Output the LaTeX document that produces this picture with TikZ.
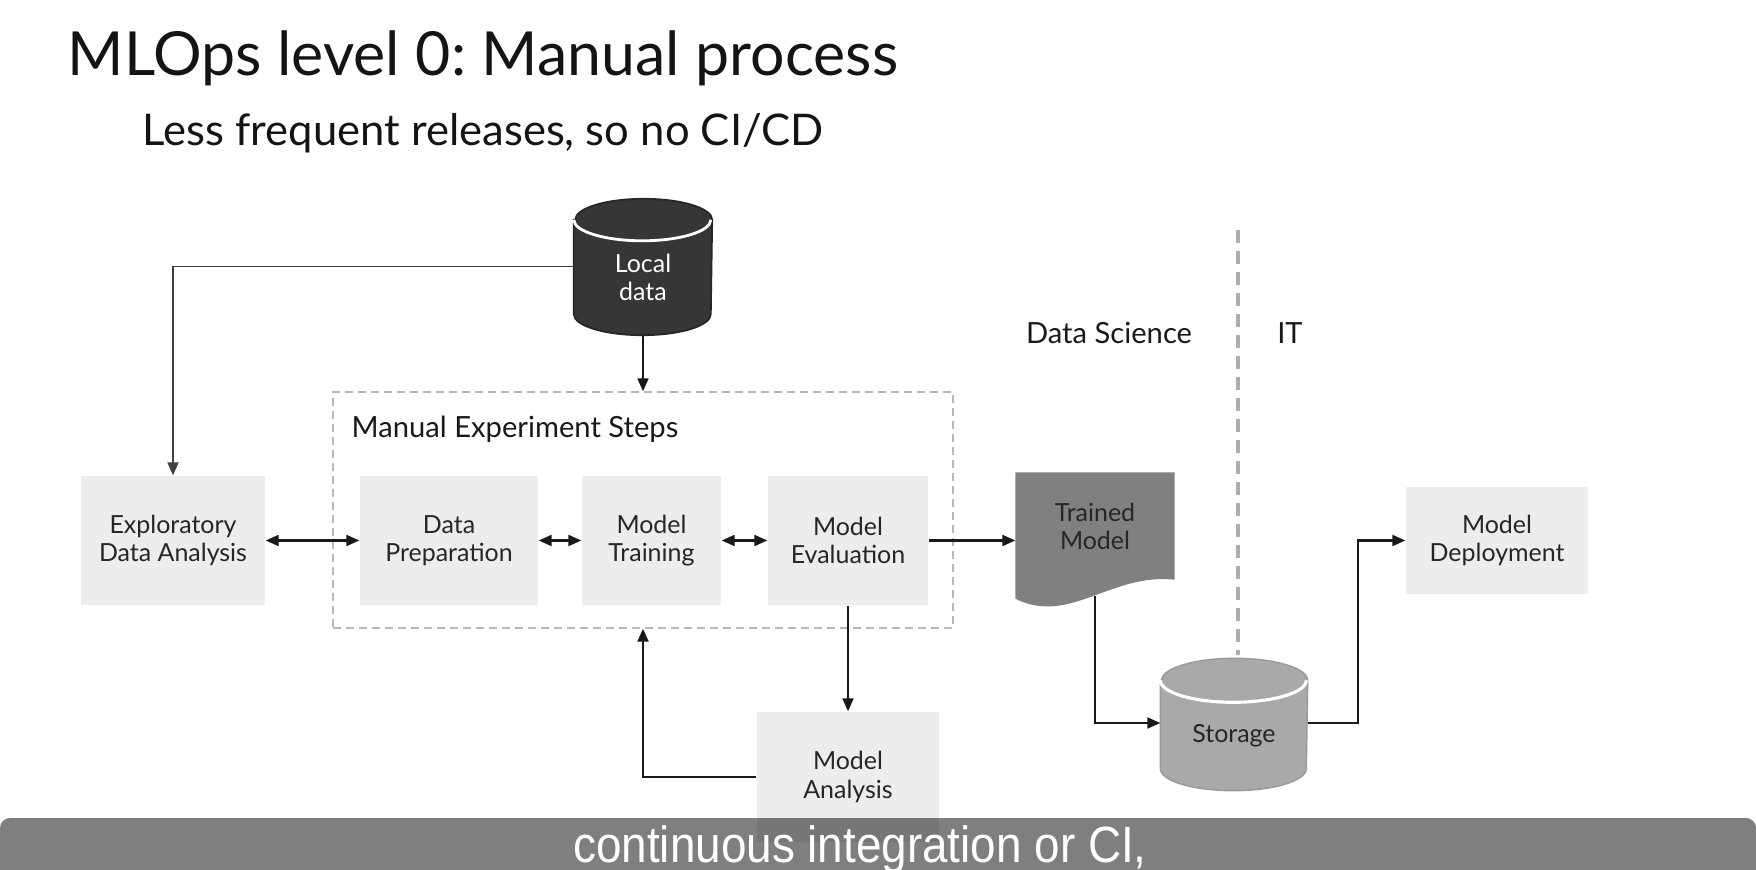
\documentclass[tikz,border=0pt]{standalone}
\usepackage{fontspec}
\setmainfont{Lato}
\newfontfamily\capfont[FakeStretch=0.9]{Liberation Sans}
\usetikzlibrary{arrows.meta,calc,positioning,backgrounds}
\frenchspacing

\definecolor{boxgray}{HTML}{EDEDED}
\definecolor{dbdark}{HTML}{363636}
\definecolor{tmgray}{HTML}{808080}
\definecolor{storegray}{HTML}{A9A9A9}

\begin{document}
\begin{tikzpicture}[
    >=Stealth,
    font=\fontsize{7.1}{8}\selectfont,
    stepbox/.style={fill=boxgray, align=center, text=black!85, inner sep=1pt,
                    minimum height=1.29cm},
    cyl/.style={align=center, inner sep=0pt},
    arrow/.style={->, line width=0.6pt, black!90, arrows={-Triangle[length=1.3mm, width=1.1mm]}},
    darrow/.style={arrow, arrows={Triangle[length=1.3mm, width=1.1mm]-Triangle[length=1.3mm, width=1.1mm]}},
    divider/.style={black!32, line width=0.9pt, dash pattern=on 1.3mm off 0.8mm}
]
\useasboundingbox (0,0) rectangle (17.56,-8.70);

% 1) Title
\node[anchor=base west, inner sep=0pt, text=black!92, font=\fontsize{17.3}{20}\selectfont] (title) at (0.67,-0.76) {MLOps level 0: Manual process};
\node[anchor=base west, inner sep=0pt, text=black!92, font=\fontsize{12.4}{15}\selectfont] (subtitle) at (1.42,-1.46) {Less frequent releases, so no CI/CD};

% 2) Local data
\node[cyl, text=white, minimum width=1.37cm, minimum height=1.14cm] (local) at (6.43,-2.775) {Local\\data};
\begin{scope}[on background layer]
\filldraw[fill=dbdark, draw=black!85, line width=0.5pt] (local.north west) -- ($(local.south west)+(0,0.21)$)
   arc[start angle=180, end angle=360, x radius=0.685, y radius=0.21] -- (local.north east)
   arc[start angle=0, end angle=180, x radius=0.685, y radius=0.21] -- cycle;
\draw[white, line width=0.8pt] (local.north west) arc[start angle=180, end angle=360, x radius=0.685, y radius=0.21];
\end{scope}

% 3) Manual experiment steps
\node[draw=black!28, line width=0.4pt, dash pattern=on 0.8mm off 0.5mm, minimum width=6.20cm, minimum height=2.36cm] (steps) at (6.43,-5.10) {};
\node[anchor=west, inner sep=0pt, text=black!90, font=\fontsize{8.3}{10}\selectfont] (stepslabel) at (3.51,-4.29) {Manual Experiment Steps};

\node[stepbox, minimum width=1.84cm] (eda) at (1.73,-5.405) {Exploratory\\Data Analysis};
\node[stepbox, minimum width=1.78cm] (prep) at (4.49,-5.405) {Data\\Preparation};
\node[stepbox, minimum width=1.39cm] (train) at (6.515,-5.405) {Model\\Training};
\node[stepbox, minimum width=1.60cm] (eval) at (8.48,-5.405) {Model\\Evaluation};
\node[stepbox, minimum width=1.82cm, minimum height=1.30cm] (analysis) at (8.48,-7.77) {Model\\Analysis};

% 4) Trained model
\node[align=center, inner sep=0pt, text=black!85, minimum width=1.58cm, minimum height=1.06cm] (model) at (10.95,-5.26) {Trained\\Model};
\begin{scope}[on background layer]
\fill[tmgray] (model.north west) -- (model.north east) -- (model.south east)
   .. controls +(-0.64,0.07) and +(0.54,-0.27) .. ($(model.south west)+(0,-0.19)$) -- cycle;
\end{scope}
\coordinate (tmbot) at (10.95,-5.96);

% 5) Data Science | IT
\coordinate (divtop) at (12.38,-2.30);
\coordinate (divbot) at (12.38,-6.55);
\draw[divider] (divtop) -- (divbot);
\node[font=\fontsize{8.3}{10}\selectfont, text=black!90] (ds) at (11.09,-3.33) {Data Science};
\node[font=\fontsize{8.3}{10}\selectfont, text=black!90] (it) at (12.90,-3.33) {IT};

% 6) Storage
\node[cyl, text=black!85, minimum width=1.46cm, minimum height=1.09cm] (storage) at (12.34,-7.355) {Storage};
\begin{scope}[on background layer]
\filldraw[fill=storegray, draw=black!40, line width=0.4pt] (storage.north west) -- ($(storage.south west)+(0,0.22)$)
   arc[start angle=180, end angle=360, x radius=0.73, y radius=0.22] -- (storage.north east)
   arc[start angle=0, end angle=180, x radius=0.73, y radius=0.22] -- cycle;
\draw[white, line width=0.9pt] (storage.north west) arc[start angle=180, end angle=360, x radius=0.73, y radius=0.22];
\end{scope}

% 7) Model deployment
\node[stepbox, minimum width=1.82cm, minimum height=1.07cm] (deploy) at (14.97,-5.405) {Model\\Deployment};

% connectors
\draw[arrow, line width=0.5pt, black!75] ([yshift=1.1mm]local.west) -| (eda.north);
\draw[arrow] (local.south) -- (steps.north);
\draw[darrow] (eda) -- (prep);
\draw[darrow] (prep) -- (train);
\draw[darrow] (train) -- (eval);
\draw[arrow] (eval.east) -- (eval.east -| model.west);
\draw[arrow] (eval) -- (analysis);
\draw[arrow] (analysis.west) -| (steps.south);
\draw[arrow] (tmbot) |- ([yshift=1.25mm]storage.west);
\draw[arrow] ([yshift=1.25mm]storage.east) -- ++(0.5,0) |- (deploy.west);

% caption bar
\fill[black, opacity=0.5, rounded corners=1mm] (0,-8.18) rectangle (17.56,-8.85);
\node[anchor=base, inner sep=0pt, text=white, font=\capfont\fontsize{14.5}{17}\selectfont] (caption) at (8.60,-8.62) {continuous integration or CI,};
\end{tikzpicture}
\end{document}
